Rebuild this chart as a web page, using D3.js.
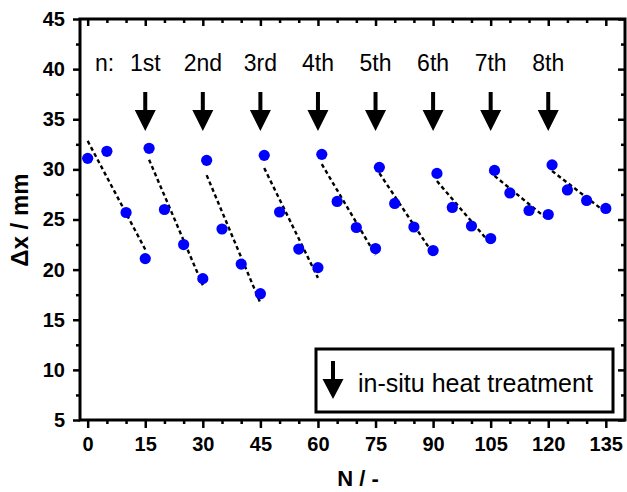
<!DOCTYPE html>
<html><head><meta charset="utf-8">
<script src="https://cdn.jsdelivr.net/npm/d3@7"></script>
<style>body{margin:0;background:#fff}svg{display:block}</style>
</head><body>
<svg id="chart" width="627" height="492"></svg>
<script>
// ---- data ----
const cycleN = [
  [0, 5, 10, 15],
  [16, 20, 25, 30],
  [31, 35, 40, 45],
  [46, 50, 55, 60],
  [61, 65, 70, 75],
  [76, 80, 85, 90],
  [91, 95, 100, 105],
  [106, 110, 115, 120],
  [121, 125, 130, 135]
];
const cycleDx = [
  [31.1, 31.8, 25.7, 21.1],
  [32.1, 26.0, 22.5, 19.1],
  [30.9, 24.05, 20.55, 17.6],
  [31.4, 25.75, 22.05, 20.2],
  [31.5, 26.8, 24.2, 22.1],
  [30.2, 26.6, 24.25, 21.9],
  [29.6, 26.2, 24.35, 23.1],
  [29.9, 27.65, 25.9, 25.5],
  [30.45, 27.95, 26.9, 26.1]
];
const treatmentN = [15, 30, 45, 60, 75, 90, 105, 120];
const treatmentLabels = ["1st", "2nd", "3rd", "4th", "5th", "6th", "7th", "8th"];
const xMajorTicks = [0, 15, 30, 45, 60, 75, 90, 105, 120, 135];
const xMinorTicks = [5, 10, 20, 25, 35, 40, 50, 55, 65, 70, 80, 85, 95, 100, 110, 115, 125, 130];
const yMajorTicks = [5, 10, 15, 20, 25, 30, 35, 40, 45];
const yMinorTicks = [7.5, 12.5, 17.5, 22.5, 27.5, 32.5, 37.5, 42.5];
const xDomain = [-2, 140];
const yDomain = [5, 45];
const xTitle = "N / -";
const yTitle = "\u0394x / mm";
const legendText = "in-situ heat treatment";

// ---- layout ----
const L = 80, R = 625, T = 19, B = 420;
const svg = d3.select("#chart");
const x = d3.scaleLinear().domain(xDomain).range([L, R]);
const y = d3.scaleLinear().domain(yDomain).range([B, T]);
const font = "'Liberation Sans', Arial, sans-serif";

function styleAxis(g) {
  g.select(".domain").remove();
  g.selectAll(".tick line").attr("stroke", "#000").attr("stroke-width", 2.5);
  g.selectAll(".tick text").attr("font-family", font).attr("font-weight", "bold")
    .attr("font-size", 20).attr("fill", "#000");
}

// bottom axis
svg.append("g").attr("transform", `translate(0,${B})`)
  .call(d3.axisBottom(x).tickValues(xMajorTicks).tickSize(8).tickPadding(9).tickFormat(d3.format("d")))
  .call(styleAxis);
svg.append("g").attr("transform", `translate(0,${B})`)
  .call(d3.axisBottom(x).tickValues(xMinorTicks).tickSize(4).tickFormat(""))
  .call(styleAxis);
// top axis (inward)
svg.append("g").attr("transform", `translate(0,${T})`)
  .call(d3.axisBottom(x).tickValues(xMajorTicks).tickSize(7).tickFormat(""))
  .call(styleAxis);
svg.append("g").attr("transform", `translate(0,${T})`)
  .call(d3.axisBottom(x).tickValues(xMinorTicks).tickSize(4).tickFormat(""))
  .call(styleAxis);
// left axis
svg.append("g").attr("transform", `translate(${L},0)`)
  .call(d3.axisLeft(y).tickValues(yMajorTicks).tickSize(7).tickPadding(8).tickFormat(d3.format("d")))
  .call(styleAxis);
svg.append("g").attr("transform", `translate(${L},0)`)
  .call(d3.axisLeft(y).tickValues(yMinorTicks).tickSize(4).tickFormat(""))
  .call(styleAxis);
// right axis (inward)
svg.append("g").attr("transform", `translate(${R},0)`)
  .call(d3.axisLeft(y).tickValues(yMajorTicks).tickSize(7).tickFormat(""))
  .call(styleAxis);
svg.append("g").attr("transform", `translate(${R},0)`)
  .call(d3.axisLeft(y).tickValues(yMinorTicks).tickSize(4).tickFormat(""))
  .call(styleAxis);

// frame
svg.append("rect").attr("x", L).attr("y", T).attr("width", R - L).attr("height", B - T)
  .attr("fill", "none").attr("stroke", "#000").attr("stroke-width", 3);

// linear least-squares fit per cycle (dashed)
function linFit(xs, ys) {
  const mx = d3.mean(xs), my = d3.mean(ys);
  let sxy = 0, sxx = 0;
  xs.forEach((v, i) => { sxy += (v - mx) * (ys[i] - my); sxx += (v - mx) * (v - mx); });
  const b = sxy / sxx, a = my - b * mx;
  return v => a + b * v;
}
const line = d3.line().x(d => x(d[0])).y(d => y(d[1]));
cycleN.forEach((ns, i) => {
  const f = linFit(ns, cycleDx[i]);
  const ends = [ns[0], ns[ns.length - 1]];
  svg.append("path").datum(ends.map(n => [n, f(n)]))
    .attr("d", line).attr("fill", "none").attr("stroke", "#000")
    .attr("stroke-width", 2.4).attr("stroke-dasharray", "4,3");
});

// points
const pts = [];
cycleN.forEach((ns, i) => ns.forEach((n, j) => pts.push([n, cycleDx[i][j]])));
svg.append("g").selectAll("circle").data(pts).join("circle")
  .attr("cx", d => x(d[0])).attr("cy", d => y(d[1])).attr("r", 5.6)
  .attr("fill", "#0000ff");

// arrows
function arrowPath(cx, top, headBase, tip, shaftW, headW) {
  return `M${cx - shaftW / 2},${top}L${cx + shaftW / 2},${top}L${cx + shaftW / 2},${headBase}` +
    `L${cx + headW / 2},${headBase}L${cx},${tip}L${cx - headW / 2},${headBase}` +
    `L${cx - shaftW / 2},${headBase}Z`;
}
svg.append("g").selectAll("path").data(treatmentN).join("path")
  .attr("d", n => arrowPath(x(n), 92, 110, 131, 4, 21)).attr("fill", "#000");
svg.append("g").selectAll("text").data(treatmentLabels).join("text")
  .attr("x", (d, i) => x(treatmentN[i])).attr("y", 71)
  .attr("text-anchor", "middle").attr("font-family", font).attr("font-size", 23)
  .attr("fill", "#000").text(d => d);
svg.append("text").attr("x", 95).attr("y", 71).attr("font-family", font)
  .attr("font-size", 23).attr("fill", "#000").text("n:");

// legend
svg.append("rect").attr("x", 316).attr("y", 349).attr("width", 297).attr("height", 63)
  .attr("fill", "#fff").attr("stroke", "#000").attr("stroke-width", 3);
svg.append("path").attr("d", arrowPath(333, 361, 379, 399, 4, 21)).attr("fill", "#000");
svg.append("text").attr("x", 358).attr("y", 392).attr("font-family", font)
  .attr("font-size", 25).attr("fill", "#000").text(legendText);

// axis titles
svg.append("text").attr("x", 358).attr("y", 486).attr("text-anchor", "middle")
  .attr("font-family", font).attr("font-weight", "bold").attr("font-size", 22)
  .attr("fill", "#000").text(xTitle);
svg.append("text").attr("transform", "translate(28,220) rotate(-90)").attr("text-anchor", "middle")
  .attr("font-family", font).attr("font-weight", "bold").attr("font-size", 24)
  .attr("fill", "#000").text(yTitle);
</script>
</body></html>
